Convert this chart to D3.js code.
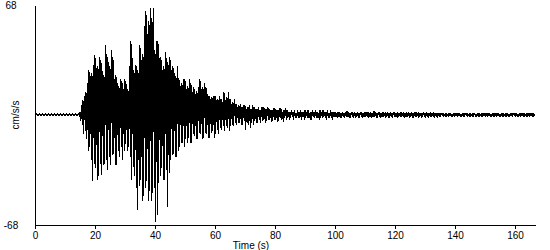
<!DOCTYPE html>
<meta charset="utf-8">
<style>
body { margin: 0; background: #fff; }
text { font: 10px "Liberation Sans", Arial, sans-serif; fill: #000; }
.axis path, .axis line { fill: none; stroke: #000; stroke-width: 1; shape-rendering: crispEdges; }
.trace { fill: none; stroke: #000; stroke-width: 1; shape-rendering: crispEdges; }
</style>
<script src="https://d3js.org/d3.v7.min.js"></script>
<body>
<div id="chart"></div>
<script>
// record settings
var dt = 0.25;                // seconds between samples
var tMax = 166.67;            // record length (s)
var yLim = 68;                // plotted range +/- (cm/s/s)
var xTicks = [0, 20, 40, 60, 80, 100, 120, 140, 160];
var yLabels = [68, -68];

// acceleration samples (cm/s/s), every 0.25 s
// 0 - 15 s: quiet before the P arrival
var preEvent = [
  0.4,-0.4,0.4,-0.4,0.4,-0.4,0.4,-0.4,0.4,-0.4,
  0.4,-0.4,0.4,-0.4,0.4,-0.4,0.4,-0.4,0.4,-0.4,
  0.4,-0.4,0.4,-0.4,0.4,-0.4,0.4,-0.4,0.4,-0.4,
  0.4,-0.4,0.4,-0.4,0.4,-0.4,0.4,-0.4,0.4,-0.4,
  0.4,-0.4,0.4,-0.4,0.4,-0.4,0.4,-0.4,0.4,-0.4,
  0.4,-0.4,0.4,-0.4,0.4,-0.4,0.4,-0.4,0.4,-0.4
];
// 15 - 84 s: one row per second
var strongMotion = [
  2,-4,6,-6,
  9,-12,12,-10,
  14,-15,20,-22,
  28,-20,24,-28,
  26,-41,31,-30,
  37,-33,29,-40,
  30,-38,36,-30,
  34,-37,27,-31,
  25,-30,43,-28,
  38,-34,33,-26,
  30,-31,40,-25,
  36,-24,22,-31,
  25,-31,20,-22,
  18,-26,22,-20,
  21,-28,16,-22,
  22,-18,19,-22,
  16,-20,30,-26,
  46,-40,35,-32,
  28,-38,31,-45,
  30,-59,26,-44,
  43,-40,34,-53,
  38,-50,55,-45,
  64,-41,50,-53,
  58,-47,66,-53,
  60,-48,66,-45,
  40,-66,46,-62,
  46,-42,35,-38,
  36,-33,28,-40,
  30,-40,39,-34,
  35,-57,31,-36,
  36,-28,28,-25,
  30,-24,26,-26,
  24,-26,30,-22,
  23,-20,18,-17,
  20,-17,22,-20,
  22,-15,16,-17,
  18,-14,22,-17,
  20,-17,14,-12,
  17,-13,13,-15,
  15,-15,17,-11,
  22,-12,16,-15,
  17,-14,20,-11,
  17,-12,13,-14,
  12,-14,10,-11,
  11,-10,12,-14,
  12,-12,9,-9,
  10,-12,12,-8,
  10,-9,8,-7,
  14,-10,9,-7,
  11,-8,14,-10,
  10,-7,7,-6,
  8,-7,10,-5,
  7,-6,5,-5,
  6,-5,7,-6,
  5,-6,6,-4,
  6,-9,4,-5,
  5,-6,6,-8,
  4,-5,6,-6,
  5,-4,4,-5,
  4,-5,5,-3,
  3,-5,5,-4,
  5,-3,4,-5,
  4,-4,5,-3,
  4,-3,3,-4,
  3,-4,4,-3,
  4,-3,3,-4,
  3,-4,4,-2,
  4,-3,2,-4,
  3,-2,4,-3
];
// 84 - 166.5 s: coda, two seconds per row
var coda = [
  3,-2,2,-3,2,-2,3,-1,
  2,-3,3,-2,1,-2,3,-2,
  2,-2,3,-3,2,-1,2,-3,
  3,-2,2,-2,3,-2,1,-3,
  2,-3,3,-1,2,-2,3,-2,
  2,-2,1,-3,3,-2,2,-2,
  3,-1,2,-2,2,-3,3,-2,
  1,-2,3,-2,2,-3,2,-1,
  2,-1.5,1,-2,2,-1,1.5,-2,
  1.5,-2,2,-1,1,-1.5,2,-1.5,
  2.5,-1,1.5,-2,1,-1.5,2,-1,
  1.5,-2,2,-1.5,1,-1,2,-2,
  1,-1.5,2,-1,1.5,-2,1,-1.5,
  2,-1,1.5,-1.5,2,-2,1,-1,
  1.5,-2,1,-1.5,2.5,-1,1.5,-1.5,
  1,-1.5,2,-1,1.5,-2,1,-1.5,
  2,-1,1,-1.5,1.5,-1,2,-1.5,
  1,-2,1.5,-1,1,-1.5,2,-1,
  1.5,-1,1,-2,1.5,-1,1,-1.5,
  2,-1.5,1,-1,1.5,-2,1,-1,
  1.5,-1,2,-1.5,1,-1,1.5,-1.5,
  1,-1.5,1.5,-1,2,-1,1,-1.5,
  1.5,-1,1,-1.5,1,-1,1.5,-1,
  1,-1.5,1.5,-1,1,-1.5,1,-1,
  1.5,-1,1,-1,1.5,-1.5,1,-1,
  1,-1.5,1,-1,
  1,-1,1.2,-0.8,1,-1.2,0.8,-1,
  1.2,-1,0.8,-1,1,-0.8,1.2,-1,
  0.8,-1.2,1,-1,1.2,-0.8,1,-1,
  1,-0.8,1.2,-1,0.8,-1,1,-1.2,
  1.2,-1,1,-0.8,1,-1.2,0.8,-1,
  1,-1,0.8,-1.2,1.2,-1,1,-0.8,
  0.8,-1,1.2,-1,1,-1,0.8,-1.2,
  1,-1.2,1,-0.8,1.2,-1,1,-1,
  1.2,-0.8,1,-1,0.8,-1.2,1,-1,
  1,-1,1.2,-1,1,-0.8,1.2,-1,
  0.8,-1,1,-1.2,1,-1,0.8,-1,
  1.2,-1,1,-1,0.8,-1.2,1,-0.8,
  1,-1,1.2,-0.8,1,-1,1.2,-1,
  0.8,-1.2,1,-1,1,-0.8,1.2,-1,
  1,-1,0.8,-1,1.2,-1,1,-1.2,
  1,-0.8,1.2,-1,1,-1,0.8
];
var accel = preEvent.concat(strongMotion, coda);

var width = 550, height = 250;
var margin = {top: 5, right: 15, bottom: 25, left: 35};

var svg = d3.select("#chart")
  .append("svg")
    .attr("width", width)
    .attr("height", height);

var x = d3.scaleLinear()
  .domain([0, tMax])
  .range([margin.left, width - margin.right]);

var y = d3.scaleLinear()
  .domain([-yLim, yLim])
  .range([height - margin.bottom, margin.top]);

// trace
svg.append("path")
  .datum(accel)
  .attr("class", "trace")
  .attr("d", d3.line()
    .x(function(d, i) { return x(i * dt) })
    .y(function(d) { return y(d) }));

// x axis
svg.append("g")
  .attr("class", "axis")
  .attr("transform", "translate(0," + y(-yLim) + ")")
  .call(d3.axisBottom(x).tickValues(xTicks).tickSize(4).tickSizeOuter(0).tickPadding(3))
  .call(function(g) { g.selectAll("text").style("font-size", "10px").style("font-family", "Liberation Sans, Arial, sans-serif"); });

// y axis: plain line, limits written at the ends
svg.append("g")
  .attr("class", "axis")
  .attr("transform", "translate(" + x(0) + ",0)")
  .call(d3.axisLeft(y).tickValues([]).tickSizeOuter(0));

svg.selectAll(".ylim")
  .data(yLabels)
  .enter()
  .append("text")
    .attr("class", "ylim")
    .attr("x", 11)
    .attr("y", function(d) { return y(d) })
    .attr("dy", "0.35em")
    .style("text-anchor", "middle")
    .text(function(d) { return d; });

// axis titles
svg.append("text")
  .attr("x", 251)
  .attr("y", 249)
  .style("text-anchor", "middle")
  .text("Time (s)");

svg.append("text")
  .attr("transform", "translate(19," + y(0) + ") rotate(-90)")
  .style("text-anchor", "middle")
  .text("cm/s/s");
</script>
</body>
